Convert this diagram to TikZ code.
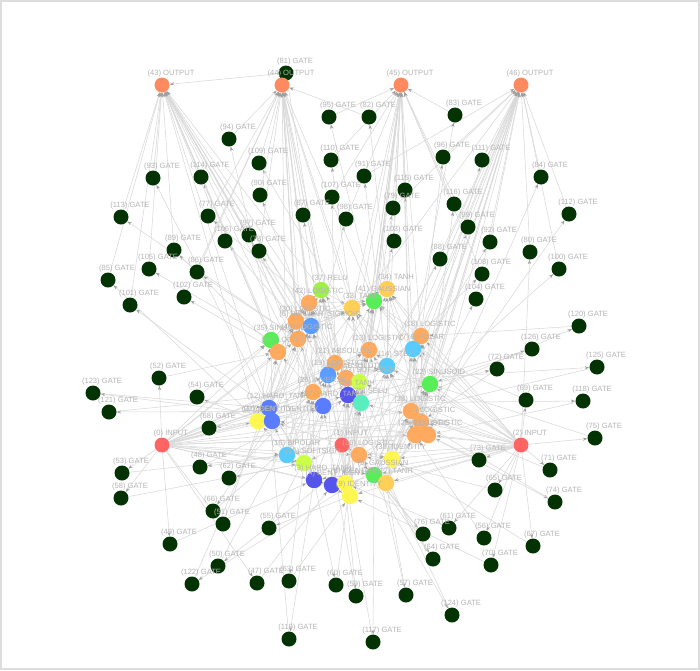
\documentclass[tikz,border=0pt]{standalone}
\usepackage{fontspec}
\newfontfamily\lblfont{Liberation Sans}
\usetikzlibrary{arrows.meta}
\definecolor{gatec}{HTML}{033303}
\definecolor{outc}{HTML}{FF8A5F}
\definecolor{inc}{HTML}{FF6464}
\definecolor{orc}{HTML}{FFAA5E}
\definecolor{yelc}{HTML}{FFF650}
\definecolor{yorc}{HTML}{FFCF58}
\definecolor{grc}{HTML}{58EE58}
\definecolor{lgrc}{HTML}{A0F048}
\definecolor{ygrc}{HTML}{CCFF48}
\definecolor{bluc}{HTML}{5A9CFF}
\definecolor{blu2}{HTML}{5A7CFF}
\definecolor{dbluc}{HTML}{5555EE}
\definecolor{cyc}{HTML}{58CCFF}
\definecolor{tealc}{HTML}{58EEC0}
\definecolor{edgec}{HTML}{D9D9D9}
\definecolor{arrc}{HTML}{A0A0A0}
\definecolor{lblc}{HTML}{B4B4B4}
\definecolor{framec}{HTML}{DDDDDD}
\def\gatelist{47/257/583,48/200/467,49/170/544,50/218/566,51/223/524,52/159/378,53/122/473,54/197/397,55/269/528,56/484/538,57/406/595,58/121/498,59/356/596,60/336/585,61/449/528,62/229/478,63/289/581,64/433/559,65/495/490,66/213/511,67/533/546,68/209/428,69/526/400,70/491/565,71/550/470,72/497/369,73/479/460,74/555/502,75/595/438,76/423/534,77/208/216,78/259/251,79/393/208,80/530/252,81/286/73,82/369/117,83/455/115,84/541/177,85/108/280,86/197/272,87/303/215,88/440/259,89/174/250,90/260/195,91/364/176,92/490/242,93/153/178,94/229/139,95/329/117,96/443/157,97/249/235,98/346/219,99/468/227,100/559/269,101/130/305,102/184/297,103/394/241,104/476/299,105/149/269,106/225/241,107/332/197,108/482/274,109/259/163,110/331/160,111/482/160,112/569/214,113/121/217,114/201/177,115/405/190,116/454/204,117/373/642,118/583/401,119/289/639,120/579/326,121/109/412,122/192/584,123/93/393,124/452/615,125/597/367,126/532/349}
\def\hidlist{37/321/290/lgrc/RELU,34/387/289/yorc/TANH,41/374/301/grc/GAUSSIAN,33/352/308/yorc/TANH,42/309/303/orc/LOGISTIC,30/296/321/orc/LOGISTIC,6/311/326/bluc/BIPOLAR\_SIGMOID,35/271/340/grc/SINUSOID,40/298/339/orc/LOGISTIC,39/278/352/orc/LOGISTIC,18/421/336/orc/LOGISTIC,7/413/349/cyc/BIPOLAR,13/369/350/orc/LOGISTIC,14/387/366/cyc/STEP,21/335/363/orc/ABSOLUTE,19/328/375/bluc/LOGISTIC,20/346/378/orc/ABSOLUTE,23/359/382/ygrc/SOFTSIGN,24/348/395/dbluc/TANH,25/361/403/tealc/SELU,22/430/384/grc/SINUSOID,26/313/392/orc/INVERSE,27/323/406/blu2/HARD\_TANH,28/411/411/orc/LOGISTIC,11/421/422/orc/LOGISTIC,29/415/435/orc/LOGISTIC,31/428/435/orc/LOGISTIC,32/258/421/yelc/IDENTITY,12/269/408/blu2/HARD\_TANH,10/272/421/blu2/BENT\_IDENTITY,36/359/455/orc/LOGISTIC,16/287/455/cyc/BIPOLAR,15/304/463/ygrc/SOFTSIGN,3/314/480/dbluc/HARD\_TANH,4/332/485/dbluc/BENT\_IDENTITY,8/345/483/yelc/IDENTITY,9/350/496/yelc/IDENTITY,5/374/475/grc/GAUSSIAN,17/386/483/yorc/TANH,38/392/459/yelc/IDENTITY}
\def\outlist{43/162/85,44/282/85,45/401/85,46/521/85}
\def\inlist{0/162/445,1/342/445,2/521/445}
\begin{document}
\begin{tikzpicture}[x=1pt,y=-1pt,
  lnk/.style={draw=edgec,line width=0.55pt,-{Stealth[length=4.5pt,width=3.2pt,color=arrc]}},
  gatenode/.style={circle,minimum size=15pt,inner sep=0pt,draw=none},
  hidnode/.style={circle,minimum size=16.5pt,inner sep=0pt,draw=none},
  ionode/.style={circle,minimum size=15pt,inner sep=0pt,draw=none},
  lbl/.style={font=\lblfont\fontsize{7.6}{8}\selectfont,text=lblc,inner sep=0pt}]
\useasboundingbox (0,0) rectangle (700,670);
\fill[white] (0,0) rectangle (700,670);
\draw[framec,line width=2pt] (1,1) rectangle (699,669);
% named nodes (invisible) for the connectors
\foreach \n/\x/\y in \gatelist {\node[gatenode] (g\n) at (\x,\y) {};}
\foreach \n/\x/\y/\c/\t in \hidlist {\node[hidnode] (h\n) at (\x,\y) {};}
\foreach \n/\x/\y in \outlist {\node[ionode] (o\n) at (\x,\y) {};}
\foreach \n/\x/\y in \inlist {\node[ionode] (i\n) at (\x,\y) {};}
% gate connections
\foreach \s/\t in {h37/g81,g81/o43,h39/g94,g94/o44,h12/g93,g93/o43,h35/g114,g114/o43,h40/g113,g113/o43,h42/g77,g77/o44,h30/g106,g106/o43,h39/g89,g89/o43,h35/g105,g105/o43,h40/g86,g86/o44,h32/g85,g85/o43,h12/g101,g101/o43,h39/g102,g102/o44,h13/g109,g109/o44,h33/g110,g110/o45,h41/g95,g95/o45,h34/g82,g82/o44,h14/g91,g91/o46,h6/g90,g90/o44,h21/g107,g107/o45,h19/g87,g87/o44,h16/g98,g98/o45,h26/g97,g97/o43,h24/g78,g78/o44,h28/g115,g115/o45,h13/g79,g79/o46,h23/g103,g103/o45,h18/g96,g96/o46,h7/g83,g83/o45,h22/g116,g116/o45,h25/g88,g88/o46,h11/g99,g99/o45,h28/g111,g111/o46,h31/g84,g84/o46,h29/g112,g112/o46,h36/g92,g92/o46,i2/g80,g80/o46,h22/g100,g100/o46,h14/g108,g108/o45,h38/g104,g104/o46}
  {\draw[lnk] (\s) -- (\t);}
\foreach \s/\t in {h16/g120,g120/h18,h10/g126,g126/h22,h22/g72,g72/h11,h23/g125,g125/h28,i2/g69,g69/h7,h25/g118,g118/h31,i2/g75,g75/h22,i0/g52,g52/h39,h31/g123,g123/h12,h32/g54,g54/h35,h28/g121,g121/h26,h32/g68,g68/h12,i0/g53,g53/h16,i0/g58,g58/h15,h16/g48,g48/h27,h15/g62,g62/h19,h10/g66,g66/h24,i0/g51,g51/h30,h9/g55,g55/h20,i0/g49,g49/h3,h36/g50,g50/h26,h38/g122,g122/h12,i0/g47,g47/h4,h15/g63,g63/h9,h3/g119,g119/h12,h3/g60,g60/h25,h8/g59,g59/h27,h5/g117,g117/h19,h17/g57,g57/h23,h36/g124,g124/h24,h5/g76,g76/h36,i2/g61,g61/h8,h17/g64,g64/h5,i2/g56,g56/h29,i2/g70,g70/h9,i2/g67,g67/h38,i2/g65,g65/h36,i2/g73,g73/h31,i2/g71,g71/h28,h31/g74,g74/h11}
  {\draw[lnk] (\s) -- (\t);}
% input connections
\foreach \s/\ts in {i0/{h12,h10,h32,h16,h15,h3,h4,h26,h27,h19,h24,h39,h35,h21,h13,h28,h11,h36,h5,h23,h40,h14,h29,h31},
  i1/{h36,h8,h9,h5,h10,h38,h15,h16,h24,h25,h23,h20,h13,h6,h37},
  i2/{h31,h29,h11,h28,h22,h14,h7,h18,h13,h36,h17,h38,h5,h25,h23,h9,h41,h34,h3,h4}}
  {\foreach \t in \ts {\draw[lnk] (\s) -- (\t);}}
% output connections
\foreach \o/\ss in {o43/{h35,h39,h40,h30,h42,h12,h32,h26,h19,h37,h6,h21},
  o44/{h42,h37,h30,h6,h40,h33,h21,h24,h16,h15,h3,h27,h13,h41},
  o45/{h34,h41,h33,h13,h18,h7,h14,h23,h25,h8,h9,h20,h28,h36},
  o46/{h18,h7,h22,h11,h28,h29,h31,h14,h36,h17,h5,h38,h10}}
  {\foreach \s in \ss {\draw[lnk] (\s) -- (\o);}}
% hidden to hidden
\foreach \s/\t in {h3/h24,h4/h25,h8/h20,h9/h23,h5/h14,h17/h22,h38/h13,h36/h21,h15/h19,h16/h26,h32/h39,h10/h35,h12/h40,h27/h30,h26/h42,h24/h37,h25/h33,h11/h18,h29/h7,h31/h10,h28/h14,h22/h18,h14/h34,h13/h41,h23/h33,h20/h42,h21/h37,h19/h6,h39/h30,h35/h42,h40/h37,h6/h33,h30/h41,h18/h34,h7/h41,h3/h9,h4/h8,h5/h17,h36/h38,h15/h12,h16/h32,h9/h24,h8/h25,h38/h28,h17/h11,h29/h31,h5/h22,h36/h14,h4/h19,h3/h27,h16/h10,h15/h26,h8/h13,h38/h23,h12/h6,h32/h35,h26/h39,h27/h21,h24/h13,h25/h18,
  h37/h33,h42/h41,h30/h34,h6/h41,h35/h37,h39/h42,h40/h33,h18/h41,h7/h34,h13/h37,h14/h33,h21/h41,h19/h42,h20/h37,h23/h41,h24/h42,h25/h34,h22/h33,h26/h30,h27/h40,h28/h13,h11/h7,h29/h14,h31/h18,h12/h39,h10/h40,h32/h30,h36/h20,h16/h19,h15/h21,h3/h26,h4/h23,h8/h24,h9/h25,h5/h28,h17/h29,h38/h22,h36/h11,h3/h12,h4/h16,h9/h31,h8/h22,h15/h35,h16/h6,h5/h18,h17/h7,h38/h14,h10/h6,h12/h42,h26/h37,h27/h33,h24/h41,h25/h22,h28/h18,h11/h34,h29/h22,h31/h7,h19/h13,h20/h14,h23/h18}
  {\draw[lnk] (\s) -- (\t);}
% visible nodes
\foreach \n/\x/\y in \gatelist {\fill[gatec] (\x,\y) circle (7.5);}
\foreach \n/\x/\y in \outlist {\fill[outc] (\x,\y) circle (7.5);}
\foreach \n/\x/\y in \inlist {\fill[inc] (\x,\y) circle (7.5);}
\foreach \n/\x/\y/\c/\t in \hidlist {\fill[\c] (\x,\y) circle (8.2);}
% labels
\foreach \n/\x/\y in \gatelist {\node[lbl] at (\x+9,\y-11.5) {(\n) GATE};}
\foreach \n/\x/\y in \outlist {\node[lbl] at (\x+9,\y-11.5) {(\n) OUTPUT};}
\foreach \n/\x/\y in \inlist {\node[lbl] at (\x+9,\y-11.5) {(\n) INPUT};}
\foreach \n/\x/\y/\c/\t in \hidlist {\node[lbl] at (\x+9,\y-11.5) {(\n) \t};}
\end{tikzpicture}
\end{document}
